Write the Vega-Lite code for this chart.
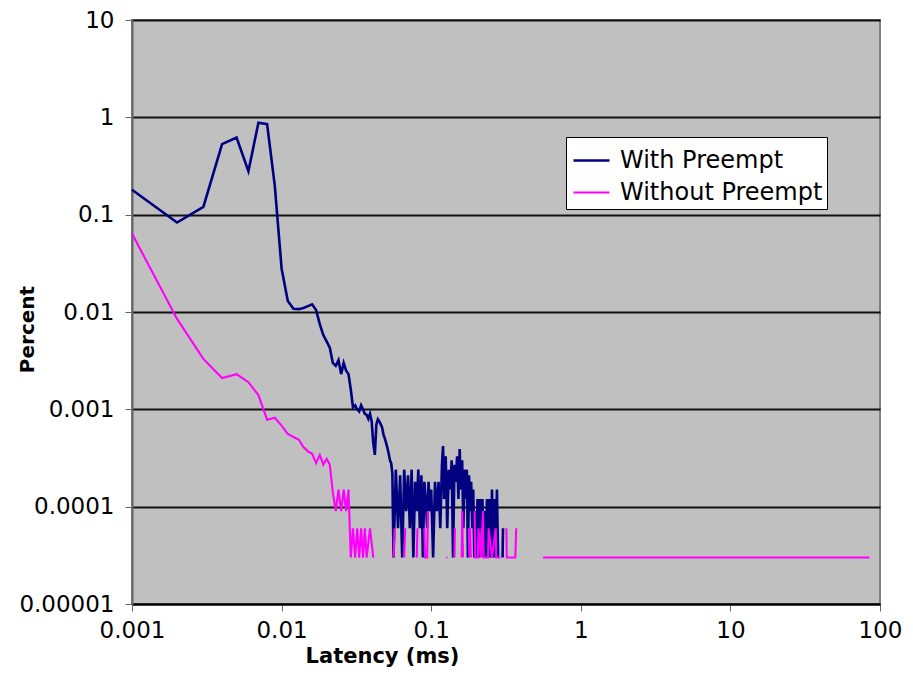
{
  "$schema": "https://vega.github.io/schema/vega-lite/v6.json",
  "width": 748,
  "height": 584,
  "autosize": {"type": "none"},
  "padding": {"left": 132, "top": 20, "right": 33, "bottom": 85},
  "background": "white",
  "config": {
    "view": {"fill": "#c0c0c0", "stroke": "#808080", "strokeWidth": 2},
    "font": "DejaVu Sans"
  },
  "data": {
    "values": [
      {"s": "With Preempt", "g": "b1", "x": 0.001, "y": 0.18},
      {"s": "With Preempt", "g": "b1", "x": 0.002, "y": 0.083},
      {"s": "With Preempt", "g": "b1", "x": 0.003, "y": 0.12},
      {"s": "With Preempt", "g": "b1", "x": 0.004, "y": 0.53},
      {"s": "With Preempt", "g": "b1", "x": 0.005, "y": 0.62},
      {"s": "With Preempt", "g": "b1", "x": 0.006, "y": 0.28},
      {"s": "With Preempt", "g": "b1", "x": 0.007, "y": 0.88},
      {"s": "With Preempt", "g": "b1", "x": 0.008, "y": 0.85},
      {"s": "With Preempt", "g": "b1", "x": 0.009, "y": 0.2},
      {"s": "With Preempt", "g": "b1", "x": 0.010, "y": 0.028},
      {"s": "With Preempt", "g": "b1", "x": 0.011, "y": 0.013},
      {"s": "With Preempt", "g": "b1", "x": 0.012, "y": 0.0108},
      {"s": "With Preempt", "g": "b1", "x": 0.013, "y": 0.0107},
      {"s": "With Preempt", "g": "b1", "x": 0.014, "y": 0.011},
      {"s": "With Preempt", "g": "b1", "x": 0.015, "y": 0.0115},
      {"s": "With Preempt", "g": "b1", "x": 0.016, "y": 0.012},
      {"s": "With Preempt", "g": "b1", "x": 0.017, "y": 0.0105},
      {"s": "With Preempt", "g": "b1", "x": 0.018, "y": 0.0075},
      {"s": "With Preempt", "g": "b1", "x": 0.019, "y": 0.0058},
      {"s": "With Preempt", "g": "b1", "x": 0.020, "y": 0.005},
      {"s": "With Preempt", "g": "b1", "x": 0.021, "y": 0.0043},
      {"s": "With Preempt", "g": "b1", "x": 0.022, "y": 0.003},
      {"s": "With Preempt", "g": "b1", "x": 0.023, "y": 0.0028},
      {"s": "With Preempt", "g": "b1", "x": 0.024, "y": 0.0032},
      {"s": "With Preempt", "g": "b1", "x": 0.025, "y": 0.0023},
      {"s": "With Preempt", "g": "b1", "x": 0.026, "y": 0.003},
      {"s": "With Preempt", "g": "b1", "x": 0.027, "y": 0.0025},
      {"s": "With Preempt", "g": "b1", "x": 0.028, "y": 0.0023},
      {"s": "With Preempt", "g": "b1", "x": 0.029, "y": 0.0016},
      {"s": "With Preempt", "g": "b1", "x": 0.030, "y": 0.00105},
      {"s": "With Preempt", "g": "b1", "x": 0.031, "y": 0.0011},
      {"s": "With Preempt", "g": "b1", "x": 0.032, "y": 0.001},
      {"s": "With Preempt", "g": "b1", "x": 0.033, "y": 0.00095},
      {"s": "With Preempt", "g": "b1", "x": 0.034, "y": 0.0011},
      {"s": "With Preempt", "g": "b1", "x": 0.035, "y": 0.001},
      {"s": "With Preempt", "g": "b1", "x": 0.036, "y": 0.0009},
      {"s": "With Preempt", "g": "b1", "x": 0.037, "y": 0.00088},
      {"s": "With Preempt", "g": "b1", "x": 0.038, "y": 0.0008},
      {"s": "With Preempt", "g": "b1", "x": 0.039, "y": 0.0009},
      {"s": "With Preempt", "g": "b1", "x": 0.040, "y": 0.00075},
      {"s": "With Preempt", "g": "b1", "x": 0.041, "y": 0.00045},
      {"s": "With Preempt", "g": "b1", "x": 0.042, "y": 0.00034},
      {"s": "With Preempt", "g": "b1", "x": 0.043, "y": 0.0007},
      {"s": "With Preempt", "g": "b1", "x": 0.044, "y": 0.00079},
      {"s": "With Preempt", "g": "b1", "x": 0.045, "y": 0.00075},
      {"s": "With Preempt", "g": "b1", "x": 0.046, "y": 0.0007},
      {"s": "With Preempt", "g": "b1", "x": 0.047, "y": 0.00065},
      {"s": "With Preempt", "g": "b1", "x": 0.048, "y": 0.00055},
      {"s": "With Preempt", "g": "b1", "x": 0.049, "y": 0.0005},
      {"s": "With Preempt", "g": "b1", "x": 0.050, "y": 0.00045},
      {"s": "With Preempt", "g": "b1", "x": 0.051, "y": 0.0004},
      {"s": "With Preempt", "g": "b1", "x": 0.052, "y": 0.00035},
      {"s": "With Preempt", "g": "b1", "x": 0.053, "y": 0.0003},
      {"s": "With Preempt", "g": "b1", "x": 0.054, "y": 0.00028},
      {"s": "With Preempt", "g": "b1", "x": 0.055, "y": 0.00022},
      {"s": "With Preempt", "g": "b1", "x": 0.056, "y": 0.00003},
      {"s": "With Preempt", "g": "b1", "x": 0.058, "y": 0.00024},
      {"s": "With Preempt", "g": "b1", "x": 0.060, "y": 0.00006},
      {"s": "With Preempt", "g": "b1", "x": 0.062, "y": 0.00021},
      {"s": "With Preempt", "g": "b1", "x": 0.064, "y": 0.00003},
      {"s": "With Preempt", "g": "b1", "x": 0.066, "y": 0.00024},
      {"s": "With Preempt", "g": "b1", "x": 0.068, "y": 0.00009},
      {"s": "With Preempt", "g": "b1", "x": 0.070, "y": 0.00021},
      {"s": "With Preempt", "g": "b1", "x": 0.072, "y": 0.00006},
      {"s": "With Preempt", "g": "b1", "x": 0.074, "y": 0.00024},
      {"s": "With Preempt", "g": "b1", "x": 0.076, "y": 0.00003},
      {"s": "With Preempt", "g": "b1", "x": 0.078, "y": 0.00018},
      {"s": "With Preempt", "g": "b1", "x": 0.080, "y": 0.00009},
      {"s": "With Preempt", "g": "b1", "x": 0.082, "y": 0.00024},
      {"s": "With Preempt", "g": "b1", "x": 0.084, "y": 0.00006},
      {"s": "With Preempt", "g": "b1", "x": 0.086, "y": 0.00021},
      {"s": "With Preempt", "g": "b1", "x": 0.088, "y": 0.00003},
      {"s": "With Preempt", "g": "b1", "x": 0.090, "y": 0.00018},
      {"s": "With Preempt", "g": "b1", "x": 0.092, "y": 0.00012},
      {"s": "With Preempt", "g": "b1", "x": 0.094, "y": 0.00006},
      {"s": "With Preempt", "g": "b1", "x": 0.096, "y": 0.00018},
      {"s": "With Preempt", "g": "b1", "x": 0.098, "y": 0.00009},
      {"s": "With Preempt", "g": "b1", "x": 0.100, "y": 0.00015},
      {"s": "With Preempt", "g": "b1", "x": 0.103, "y": 0.00003},
      {"s": "With Preempt", "g": "b1", "x": 0.106, "y": 0.00018},
      {"s": "With Preempt", "g": "b1", "x": 0.109, "y": 0.00009},
      {"s": "With Preempt", "g": "b1", "x": 0.112, "y": 0.00018},
      {"s": "With Preempt", "g": "b1", "x": 0.115, "y": 0.00006},
      {"s": "With Preempt", "g": "b1", "x": 0.118, "y": 0.00027},
      {"s": "With Preempt", "g": "b1", "x": 0.120, "y": 0.00042},
      {"s": "With Preempt", "g": "b1", "x": 0.122, "y": 0.00012},
      {"s": "With Preempt", "g": "b1", "x": 0.125, "y": 0.00033},
      {"s": "With Preempt", "g": "b1", "x": 0.128, "y": 0.00006},
      {"s": "With Preempt", "g": "b1", "x": 0.131, "y": 0.00024},
      {"s": "With Preempt", "g": "b1", "x": 0.134, "y": 0.00015},
      {"s": "With Preempt", "g": "b1", "x": 0.137, "y": 0.0003},
      {"s": "With Preempt", "g": "b1", "x": 0.140, "y": 0.00003},
      {"s": "With Preempt", "g": "b1", "x": 0.143, "y": 0.00027},
      {"s": "With Preempt", "g": "b1", "x": 0.146, "y": 0.00018},
      {"s": "With Preempt", "g": "b1", "x": 0.149, "y": 0.00033},
      {"s": "With Preempt", "g": "b1", "x": 0.152, "y": 0.00012},
      {"s": "With Preempt", "g": "b1", "x": 0.155, "y": 0.00039},
      {"s": "With Preempt", "g": "b1", "x": 0.158, "y": 0.00015},
      {"s": "With Preempt", "g": "b1", "x": 0.161, "y": 0.0003},
      {"s": "With Preempt", "g": "b1", "x": 0.164, "y": 0.00006},
      {"s": "With Preempt", "g": "b1", "x": 0.167, "y": 0.00024},
      {"s": "With Preempt", "g": "b1", "x": 0.170, "y": 0.00012},
      {"s": "With Preempt", "g": "b1", "x": 0.173, "y": 0.00024},
      {"s": "With Preempt", "g": "b1", "x": 0.176, "y": 0.00003},
      {"s": "With Preempt", "g": "b1", "x": 0.179, "y": 0.00021},
      {"s": "With Preempt", "g": "b1", "x": 0.182, "y": 0.00009},
      {"s": "With Preempt", "g": "b1", "x": 0.185, "y": 0.00018},
      {"s": "With Preempt", "g": "b1", "x": 0.188, "y": 0.00006},
      {"s": "With Preempt", "g": "b1", "x": 0.191, "y": 0.00015},
      {"s": "With Preempt", "g": "b1", "x": 0.194, "y": 0.00003},
      {"s": "With Preempt", "g": "b1", "x": 0.197, "y": 0.00009},
      {"s": "With Preempt", "g": "b1", "x": 0.200, "y": 0.00003},
      {"s": "With Preempt", "g": "b1", "x": 0.204, "y": 0.00012},
      {"s": "With Preempt", "g": "b1", "x": 0.208, "y": 0.00003},
      {"s": "With Preempt", "g": "b1", "x": 0.212, "y": 0.00012},
      {"s": "With Preempt", "g": "b1", "x": 0.216, "y": 0.00006},
      {"s": "With Preempt", "g": "b1", "x": 0.220, "y": 0.00012},
      {"s": "With Preempt", "g": "b1", "x": 0.224, "y": 0.00003},
      {"s": "With Preempt", "g": "b1", "x": 0.228, "y": 0.00009},
      {"s": "With Preempt", "g": "b1", "x": 0.232, "y": 0.00003},
      {"s": "With Preempt", "g": "b1", "x": 0.236, "y": 0.00012},
      {"s": "With Preempt", "g": "b1", "x": 0.240, "y": 0.00003},
      {"s": "With Preempt", "g": "b1", "x": 0.245, "y": 0.00012},
      {"s": "With Preempt", "g": "b1", "x": 0.250, "y": 0.00003},
      {"s": "With Preempt", "g": "b1", "x": 0.255, "y": 0.00015},
      {"s": "With Preempt", "g": "b1", "x": 0.260, "y": 0.00003},
      {"s": "With Preempt", "g": "b1", "x": 0.265, "y": 0.00012},
      {"s": "With Preempt", "g": "b1", "x": 0.270, "y": 0.00003},
      {"s": "With Preempt", "g": "b1", "x": 0.275, "y": 0.00015},
      {"s": "With Preempt", "g": "b1", "x": 0.280, "y": 0.00003},
      {"s": "With Preempt", "g": "b2", "x": 0.300, "y": 0.00003},
      {"s": "With Preempt", "g": "b2", "x": 0.302, "y": 0.00006},

      {"s": "Without Preempt", "g": "m1", "x": 0.001, "y": 0.064},
      {"s": "Without Preempt", "g": "m1", "x": 0.002, "y": 0.0085},
      {"s": "Without Preempt", "g": "m1", "x": 0.003, "y": 0.0033},
      {"s": "Without Preempt", "g": "m1", "x": 0.004, "y": 0.0021},
      {"s": "Without Preempt", "g": "m1", "x": 0.005, "y": 0.0023},
      {"s": "Without Preempt", "g": "m1", "x": 0.006, "y": 0.0019},
      {"s": "Without Preempt", "g": "m1", "x": 0.007, "y": 0.0014},
      {"s": "Without Preempt", "g": "m1", "x": 0.008, "y": 0.00078},
      {"s": "Without Preempt", "g": "m1", "x": 0.009, "y": 0.00082},
      {"s": "Without Preempt", "g": "m1", "x": 0.010, "y": 0.00068},
      {"s": "Without Preempt", "g": "m1", "x": 0.011, "y": 0.00056},
      {"s": "Without Preempt", "g": "m1", "x": 0.012, "y": 0.00052},
      {"s": "Without Preempt", "g": "m1", "x": 0.013, "y": 0.00049},
      {"s": "Without Preempt", "g": "m1", "x": 0.014, "y": 0.00041},
      {"s": "Without Preempt", "g": "m1", "x": 0.015, "y": 0.00037},
      {"s": "Without Preempt", "g": "m1", "x": 0.016, "y": 0.00035},
      {"s": "Without Preempt", "g": "m1", "x": 0.017, "y": 0.00028},
      {"s": "Without Preempt", "g": "m1", "x": 0.018, "y": 0.00034},
      {"s": "Without Preempt", "g": "m1", "x": 0.019, "y": 0.00027},
      {"s": "Without Preempt", "g": "m1", "x": 0.020, "y": 0.00031},
      {"s": "Without Preempt", "g": "m1", "x": 0.021, "y": 0.00027},
      {"s": "Without Preempt", "g": "m1", "x": 0.022, "y": 0.00014},
      {"s": "Without Preempt", "g": "m1", "x": 0.023, "y": 0.00009},
      {"s": "Without Preempt", "g": "m1", "x": 0.024, "y": 0.00015},
      {"s": "Without Preempt", "g": "m1", "x": 0.025, "y": 0.00009},
      {"s": "Without Preempt", "g": "m1", "x": 0.026, "y": 0.00015},
      {"s": "Without Preempt", "g": "m1", "x": 0.027, "y": 0.00009},
      {"s": "Without Preempt", "g": "m1", "x": 0.028, "y": 0.00015},
      {"s": "Without Preempt", "g": "m1", "x": 0.029, "y": 0.00003},
      {"s": "Without Preempt", "g": "m1", "x": 0.030, "y": 0.00006},
      {"s": "Without Preempt", "g": "m1", "x": 0.031, "y": 0.00003},
      {"s": "Without Preempt", "g": "m1", "x": 0.032, "y": 0.00006},
      {"s": "Without Preempt", "g": "m1", "x": 0.033, "y": 0.00003},
      {"s": "Without Preempt", "g": "m1", "x": 0.034, "y": 0.00006},
      {"s": "Without Preempt", "g": "m1", "x": 0.035, "y": 0.00003},
      {"s": "Without Preempt", "g": "m1", "x": 0.036, "y": 0.00006},
      {"s": "Without Preempt", "g": "m1", "x": 0.037, "y": 0.00003},
      {"s": "Without Preempt", "g": "m1", "x": 0.039, "y": 0.00006},
      {"s": "Without Preempt", "g": "m1", "x": 0.041, "y": 0.00003},
      {"s": "Without Preempt", "g": "m2", "x": 0.056, "y": 0.00003},
      {"s": "Without Preempt", "g": "m2", "x": 0.057, "y": 0.00006},
      {"s": "Without Preempt", "g": "m3", "x": 0.066, "y": 0.00003},
      {"s": "Without Preempt", "g": "m3", "x": 0.067, "y": 0.00006},
      {"s": "Without Preempt", "g": "m4", "x": 0.080, "y": 0.00003},
      {"s": "Without Preempt", "g": "m4", "x": 0.081, "y": 0.00006},
      {"s": "Without Preempt", "g": "m5", "x": 0.090, "y": 0.00006},
      {"s": "Without Preempt", "g": "m5", "x": 0.091, "y": 0.00003},
      {"s": "Without Preempt", "g": "m5", "x": 0.094, "y": 0.00003},
      {"s": "Without Preempt", "g": "m5", "x": 0.095, "y": 0.00009},
      {"s": "Without Preempt", "g": "m6", "x": 0.126, "y": 0.00003},
      {"s": "Without Preempt", "g": "m6", "x": 0.128, "y": 0.00003},
      {"s": "Without Preempt", "g": "m7", "x": 0.143, "y": 0.00003},
      {"s": "Without Preempt", "g": "m7", "x": 0.144, "y": 0.00006},
      {"s": "Without Preempt", "g": "m8", "x": 0.160, "y": 0.00003},
      {"s": "Without Preempt", "g": "m8", "x": 0.161, "y": 0.00009},
      {"s": "Without Preempt", "g": "m8", "x": 0.163, "y": 0.00003},
      {"s": "Without Preempt", "g": "m9", "x": 0.178, "y": 0.00006},
      {"s": "Without Preempt", "g": "m9", "x": 0.180, "y": 0.00003},
      {"s": "Without Preempt", "g": "m9", "x": 0.182, "y": 0.00006},
      {"s": "Without Preempt", "g": "m9", "x": 0.184, "y": 0.00003},
      {"s": "Without Preempt", "g": "m10", "x": 0.195, "y": 0.00009},
      {"s": "Without Preempt", "g": "m10", "x": 0.197, "y": 0.00003},
      {"s": "Without Preempt", "g": "m10", "x": 0.205, "y": 0.00003},
      {"s": "Without Preempt", "g": "m10", "x": 0.207, "y": 0.00006},
      {"s": "Without Preempt", "g": "m10", "x": 0.215, "y": 0.00003},
      {"s": "Without Preempt", "g": "m10", "x": 0.222, "y": 0.00009},
      {"s": "Without Preempt", "g": "m10", "x": 0.224, "y": 0.00003},
      {"s": "Without Preempt", "g": "m10", "x": 0.240, "y": 0.00003},
      {"s": "Without Preempt", "g": "m10", "x": 0.242, "y": 0.00006},
      {"s": "Without Preempt", "g": "m10", "x": 0.255, "y": 0.00003},
      {"s": "Without Preempt", "g": "m10", "x": 0.270, "y": 0.00006},
      {"s": "Without Preempt", "g": "m10", "x": 0.272, "y": 0.00003},
      {"s": "Without Preempt", "g": "m10", "x": 0.290, "y": 0.00003},
      {"s": "Without Preempt", "g": "m11", "x": 0.318, "y": 0.00006},
      {"s": "Without Preempt", "g": "m11", "x": 0.320, "y": 0.00003},
      {"s": "Without Preempt", "g": "m11", "x": 0.365, "y": 0.00003},
      {"s": "Without Preempt", "g": "m11", "x": 0.370, "y": 0.00006},
      {"s": "Without Preempt", "g": "m12", "x": 0.56, "y": 0.00003},
      {"s": "Without Preempt", "g": "m12", "x": 85, "y": 0.00003}
    ]
  },
  "mark": {"type": "line"},
  "encoding": {
    "x": {
      "field": "x",
      "type": "quantitative",
      "scale": {"type": "log", "domain": [0.001, 100], "nice": false},
      "axis": {
        "title": "Latency (ms)",
        "values": [0.001, 0.01, 0.1, 1, 10, 100],
        "format": "~f",
        "grid": false,
        "domainColor": "#000000",
        "domainWidth": 2,
        "tickColor": "#666666",
        "tickSize": 7,
        "labelFontSize": 23,
        "labelColor": "#000000",
        "labelPadding": 8,
        "labelFlush": false,
        "titleFontSize": 21,
        "titleFontWeight": "bold",
        "titleColor": "#000000",
        "titleX": 250,
        "titleY": 52,
        "titleAlign": "center",
        "titleBaseline": "middle"
      }
    },
    "y": {
      "field": "y",
      "type": "quantitative",
      "scale": {"type": "log", "domain": [0.00001, 10], "nice": false},
      "axis": {
        "title": "Percent",
        "values": [0.00001, 0.0001, 0.001, 0.01, 0.1, 1, 10],
        "format": "~f",
        "grid": true,
        "gridColor": "#111111",
        "gridWidth": 2,
        "gridOpacity": 1,
        "domainColor": "#666666",
        "domainWidth": 2,
        "tickColor": "#666666",
        "tickSize": 7,
        "labelFontSize": 23,
        "labelColor": "#000000",
        "labelPadding": 11,
        "labelFlush": false,
        "titleFontSize": 20,
        "titleFontWeight": "bold",
        "titleColor": "#000000",
        "titleX": -105,
        "titleY": 309,
        "titleAngle": -90,
        "titleAlign": "center",
        "titleBaseline": "middle"
      }
    },
    "color": {
      "field": "s",
      "type": "nominal",
      "scale": {"domain": ["With Preempt", "Without Preempt"], "range": ["#000080", "#ff00ff"]},
      "legend": {
        "orient": "none",
        "legendX": 434,
        "legendY": 117,
        "title": null,
        "fillColor": "white",
        "strokeColor": "#000000",
        "padding": 4,
        "symbolType": "stroke",
        "symbolSize": 1296,
        "symbolStrokeWidth": 2,
        "symbolOffset": 2,
        "labelFontSize": 24,
        "labelLimit": 400,
        "labelColor": "#000000",
        "labelOffset": 9,
        "rowPadding": 0
      }
    },
    "strokeWidth": {
      "field": "s",
      "type": "nominal",
      "scale": {"domain": ["With Preempt", "Without Preempt"], "range": [2.6, 2.1]},
      "legend": null
    },
    "detail": {"field": "g"}
  }
}
